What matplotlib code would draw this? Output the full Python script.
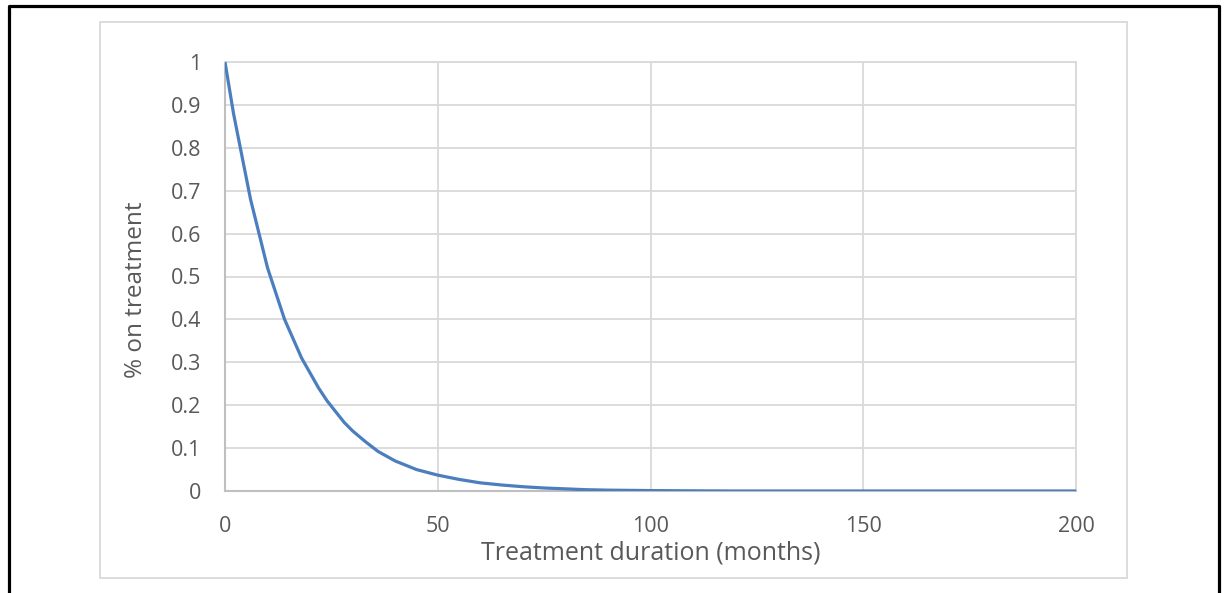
import matplotlib.pyplot as plt
from matplotlib.patches import Rectangle
from matplotlib.lines import Line2D

# months on treatment and share of patients still on treatment
months = [0, 2, 4, 6, 8, 10, 12, 14, 16, 18, 20, 22, 24, 26, 28, 30, 33, 36, 40,
          45, 50, 55, 60, 65, 70, 75, 80, 85, 90, 100, 108, 120, 150, 200]
on_treatment = [1.0, 0.88, 0.78, 0.68, 0.60, 0.52, 0.46, 0.40, 0.355, 0.31, 0.275,
                0.24, 0.21, 0.185, 0.16, 0.14, 0.115, 0.092, 0.07, 0.05, 0.037,
                0.027, 0.019, 0.014, 0.010, 0.007, 0.005, 0.003, 0.002, 0.001,
                0.0005, 0.0, 0.0, 0.0]

x_ticks = [0, 50, 100, 150, 200]
y_ticks = [0, 0.1, 0.2, 0.3, 0.4, 0.5, 0.6, 0.7, 0.8, 0.9, 1]
y_labels = ['0', '0.1', '0.2', '0.3', '0.4', '0.5', '0.6', '0.7', '0.8', '0.9', '1']

W, H = 1224, 593
plt.rcParams['font.family'] = ['Open Sans', 'DejaVu Sans']
text_col = '#595959'
grid_col = '#d9d9d9'

fig = plt.figure(figsize=(W / 100, H / 100), dpi=100)
ax = fig.add_axes([225 / W, 1 - 491 / H, (1076 - 225) / W, (491 - 62) / H])

ax.plot(months, on_treatment, color='#4a7ebf', lw=2.3, solid_capstyle='butt', zorder=3)

ax.set_xlim(0, 200)
ax.set_ylim(0, 1)
ax.set_xticks(x_ticks)
ax.set_yticks(y_ticks)
ax.set_yticklabels(y_labels)
ax.grid(True, color=grid_col, lw=1.3)
ax.set_axisbelow(True)
ax.tick_params(length=0, labelsize=15.5, labelcolor=text_col)
ax.tick_params(axis='y', pad=17)
ax.tick_params(axis='x', pad=18)

for s in ['top', 'right']:
    ax.spines[s].set_color(grid_col)
    ax.spines[s].set_linewidth(1.3)
for s in ['left', 'bottom']:
    ax.spines[s].set_color('#bfbfbf')
    ax.spines[s].set_linewidth(1.5)

ax.set_xlabel('Treatment duration (months)', fontsize=18, color=text_col, va='center')
ax.set_ylabel('% on treatment', fontsize=17.5, color=text_col, va='center')
ax.xaxis.set_label_coords(0.5, (491 - 553) / 429)
ax.yaxis.set_label_coords((136 - 225) / 851, (491 - 290) / 429)

# chart area border (light gray)
fig.add_artist(Rectangle((100 / W, 1 - 578 / H), (1127 - 100) / W, (578 - 22) / H,
                         transform=fig.transFigure, fill=False, ec=grid_col, lw=1.3))

# outer black frame, open at the bottom
fx0, fx1, fy = 9 / W, 1219 / W, 1 - 6 / H
fig.add_artist(Line2D([fx0, fx0, fx1, fx1], [0, fy, fy, 0],
                      transform=fig.transFigure, color='black', lw=2.3))

fig.savefig('out.png', dpi=100)
